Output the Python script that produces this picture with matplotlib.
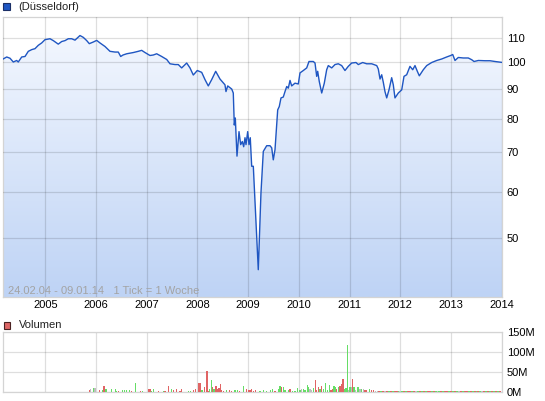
import matplotlib
matplotlib.use('Agg')
import matplotlib.pyplot as plt
import numpy as np
from matplotlib.patches import Rectangle, Polygon
from matplotlib.ticker import NullLocator, FixedLocator
from matplotlib.colors import LinearSegmentedColormap

plt.rcParams['font.family'] = ['Liberation Sans', 'DejaVu Sans']

# ---------------- data ----------------
price_year = [2004.150, 2004.237, 2004.302, 2004.367, 2004.434, 2004.465, 2004.533, 2004.598,
              2004.663, 2004.730, 2004.795, 2004.860, 2004.927, 2004.992, 2005.091, 2005.156,
              2005.254, 2005.321, 2005.387, 2005.452, 2005.519, 2005.584, 2005.682, 2005.748,
              2005.815, 2005.866, 2005.945, 2006.012, 2006.077, 2006.176, 2006.274, 2006.373,
              2006.438, 2006.485, 2006.531, 2006.604, 2006.734, 2006.832, 2006.899, 2006.965,
              2007.063, 2007.128, 2007.195, 2007.294, 2007.393, 2007.458, 2007.556, 2007.621,
              2007.688, 2007.787, 2007.852, 2007.917, 2007.996, 2008.083, 2008.148, 2008.213,
              2008.280, 2008.359, 2008.444, 2008.542, 2008.562, 2008.596, 2008.675, 2008.706,
              2008.726, 2008.746, 2008.779, 2008.819, 2008.852, 2008.884, 2008.911, 2008.937,
              2008.957, 2008.990, 2009.016, 2009.041, 2009.069, 2009.101, 2009.199, 2009.252,
              2009.298, 2009.365, 2009.430, 2009.464, 2009.495, 2009.529, 2009.582, 2009.613,
              2009.647, 2009.692, 2009.726, 2009.760, 2009.791, 2009.825, 2009.858, 2009.884,
              2009.923, 2009.988, 2010.022, 2010.087, 2010.154, 2010.199, 2010.284, 2010.318,
              2010.351, 2010.371, 2010.402, 2010.450, 2010.501, 2010.548, 2010.580, 2010.647,
              2010.712, 2010.777, 2010.844, 2010.909, 2010.974, 2011.041, 2011.126, 2011.172,
              2011.258, 2011.337, 2011.436, 2011.535, 2011.566, 2011.600, 2011.633, 2011.665,
              2011.698, 2011.732, 2011.777, 2011.830, 2011.862, 2011.895, 2011.961, 2012.028,
              2012.073, 2012.126, 2012.191, 2012.245, 2012.290, 2012.336, 2012.375, 2012.454,
              2012.521, 2012.619, 2012.718, 2012.817, 2012.915, 2012.994, 2013.034, 2013.079,
              2013.144, 2013.243, 2013.341, 2013.409, 2013.454, 2013.539, 2013.671, 2013.770,
              2013.868, 2014.022]
price_value = [101.0, 102.0, 101.5, 100.0, 100.6, 100.0, 102.0, 102.2,
               104.3, 105.0, 105.4, 106.8, 107.8, 109.2, 109.6, 108.8,
               107.3, 108.4, 108.8, 109.6, 109.6, 109.0, 111.0, 110.2,
               108.8, 107.5, 108.2, 108.9, 107.8, 106.3, 104.3, 104.0,
               104.0, 102.2, 102.8, 103.3, 103.8, 104.3, 104.7, 103.8,
               102.6, 102.8, 103.3, 102.2, 101.0, 99.3, 99.0, 99.0,
               97.7, 99.6, 97.7, 95.0, 96.7, 96.0, 93.3, 91.0,
               93.3, 96.4, 93.5, 91.4, 89.0, 91.0, 89.9, 88.5,
               78.0, 80.2, 69.0, 76.0, 72.2, 73.1, 71.6, 74.2,
               72.2, 76.0, 72.2, 74.2, 66.3, 66.3, 44.1, 59.7,
               70.3, 71.9, 71.9, 71.3, 68.0, 70.8, 82.8, 83.9,
               86.8, 87.1, 89.0, 90.8, 90.2, 93.0, 91.0, 91.4,
               92.0, 91.7, 95.8, 96.7, 97.7, 100.2, 100.2, 99.6,
               94.5, 96.4, 92.6, 88.5, 92.0, 97.0, 98.6, 97.7,
               99.0, 99.3, 98.6, 96.7, 98.3, 99.6, 99.8, 99.0,
               99.8, 99.3, 99.3, 98.6, 97.3, 93.5, 95.1, 92.3,
               89.0, 86.8, 89.6, 94.0, 91.4, 86.8, 88.5, 89.6,
               94.5, 95.1, 98.3, 97.0, 98.6, 96.4, 94.7, 97.0,
               98.6, 99.8, 100.6, 101.2, 102.0, 102.6, 103.0, 100.6,
               101.8, 101.6, 101.6, 100.9, 100.2, 100.6, 100.5, 100.5,
               100.2, 99.8]

vol_year = [2005.866, 2005.899, 2005.945, 2005.978, 2006.063, 2006.122, 2006.156, 2006.195,
            2006.300, 2006.379, 2006.406, 2006.438, 2006.517, 2006.556, 2006.604, 2006.655,
            2006.702, 2006.773, 2006.880, 2006.919, 2007.030, 2007.063, 2007.097, 2007.128,
            2007.227, 2007.325, 2007.359, 2007.424, 2007.491, 2007.523, 2007.590, 2007.655,
            2007.688, 2007.819, 2007.866, 2007.917, 2007.957, 2008.016, 2008.049, 2008.089,
            2008.134, 2008.187, 2008.221, 2008.233, 2008.272, 2008.300, 2008.326, 2008.365,
            2008.390, 2008.424, 2008.450, 2008.477, 2008.509, 2008.576, 2008.627, 2008.675,
            2008.740, 2008.785, 2008.824, 2008.903, 2008.970, 2009.002, 2009.036, 2009.069,
            2009.101, 2009.148, 2009.233, 2009.298, 2009.365, 2009.444, 2009.483, 2009.529,
            2009.594, 2009.627, 2009.661, 2009.692, 2009.726, 2009.791, 2009.825, 2009.877,
            2009.923, 2009.968, 2010.022, 2010.055, 2010.087, 2010.120, 2010.166, 2010.193,
            2010.219, 2010.252, 2010.284, 2010.323, 2010.351, 2010.383, 2010.416, 2010.442,
            2010.481, 2010.521, 2010.560, 2010.600, 2010.633, 2010.667, 2010.692, 2010.718,
            2010.746, 2010.777, 2010.811, 2010.844, 2010.864, 2010.884, 2010.909, 2010.929,
            2010.955, 2010.982, 2011.008, 2011.034, 2011.054, 2011.087, 2011.120, 2011.152,
            2011.180, 2011.205, 2011.239, 2011.270, 2011.304, 2011.337, 2011.388, 2011.436,
            2011.467, 2011.507, 2011.547]
vol_m = [4, 6, 9, 9, 4, 4, 14, 6,
         7, 6, 3, 2, 4, 4, 4, 4,
         3, 22, 2, 2, 6, 6, 3, 6,
         3, 3, 2, 14, 7, 5, 6, 2,
         8, 2, 2, 4, 8, 22, 22, 4,
         12, 52, 3, 8, 29, 12, 7, 14,
         7, 9, 19, 4, 3, 4, 4, 2,
         4, 4, 2, 14, 7, 4, 4, 7,
         3, 4, 2, 4, 2, 4, 6, 2,
         7, 14, 11, 12, 4, 4, 7, 3,
         3, 9, 4, 7, 7, 4, 17, 11,
         6, 4, 9, 29, 4, 11, 6, 14,
         8, 22, 4, 17, 4, 6, 14, 12,
         8, 11, 15, 19, 32, 32, 7, 9,
         119, 4, 11, 11, 32, 11, 4, 11,
         11, 6, 6, 6, 4, 4, 8, 4,
         4, 3, 2]
vol_dir = ["r", "n", "g", "n", "r", "g", "r", "g",
           "g", "g", "g", "r", "g", "g", "g", "g",
           "r", "g", "r", "g", "r", "r", "g", "g",
           "r", "g", "r", "r", "g", "r", "r", "r",
           "r", "g", "g", "r", "r", "r", "r", "g",
           "r", "r", "r", "g", "g", "r", "g", "r",
           "r", "r", "r", "r", "r", "g", "r", "r",
           "g", "g", "r", "g", "r", "r", "r", "r",
           "r", "r", "g", "g", "g", "g", "g", "r",
           "g", "g", "r", "g", "g", "g", "r", "g",
           "g", "g", "g", "n", "g", "g", "g", "g",
           "n", "n", "g", "r", "r", "r", "g", "r",
           "g", "g", "g", "g", "r", "r", "g", "g",
           "r", "g", "r", "r", "r", "r", "g", "g",
           "g", "n", "g", "n", "r", "g", "n", "g",
           "g", "n", "g", "n", "r", "r", "g", "r",
           "r", "n", "n"]
tail_start = 2011.58
tail_vol = [1.5, 1.2, 1.8, 1.0, 1.4, 1.6, 1.1, 1.3, 1.7, 1.2, 1.0, 1.5, 1.4, 1.1, 1.6, 1.3,
            1.2, 1.8, 1.0, 1.4, 1.5, 1.2, 1.1, 1.6, 1.3, 1.4, 1.0, 1.7, 1.2, 1.5, 1.1, 1.3,
            1.6, 1.2, 1.4, 1.0, 1.5, 1.3, 1.1, 1.7, 1.2, 1.4, 1.6, 1.0, 1.3, 1.5, 1.2, 1.1,
            1.4, 1.6, 1.3, 1.0, 1.5, 1.2, 1.4, 1.7, 1.1, 1.3, 1.5, 1.2, 1.0, 1.4, 1.6]
tail_dir = "rgrnrgrgrrgngrgrrgrngrgrgrrgrgngrgrrgrgrgnrgrrgrgrgrgnrgrgrgrgr"

years = list(range(2005, 2015))
price_ticks = [50, 60, 70, 80, 90, 100, 110]
vol_ticks = [0, 50, 100, 150]
vol_tick_labels = ['0M', '50M', '100M', '150M']

# ---------------- layout ----------------
W, H = 545, 401
fig = plt.figure(figsize=(W / 100, H / 100), dpi=100)
fig.patch.set_facecolor('white')


def fx(px):
    return px / W


def fy(py):
    return 1 - py / H


spine_col = '#d4d4d4'
xmin, xmax = 2004.164, 2014.006

ax = fig.add_axes([fx(3), fy(297), fx(502) - fx(3), fy(16.6) - fy(297)])
ax.set_yscale('log')
ax.set_xlim(xmin, xmax)
ax.set_ylim(39.6, 119.6)
ax.set_autoscale_on(False)

# gradient fill under the line
verts = list(zip(price_year, price_value)) + [(price_year[-1], 20), (price_year[0], 20)]
poly = Polygon(verts, closed=True, facecolor='none', edgecolor='none')
ax.add_patch(poly)
cmap = LinearSegmentedColormap.from_list('g', ['#f6f9ff', '#bed3f5'])
grad = np.linspace(0, 1, 256).reshape(-1, 1)
im = ax.imshow(grad, extent=[0, 1, 0, 1], transform=ax.transAxes, aspect='auto',
               cmap=cmap, zorder=1, interpolation='bilinear')
im.set_clip_path(poly)
ax.set_xlim(xmin, xmax)
ax.set_ylim(39.6, 119.6)

ax.plot(price_year, price_value, color='#1f56c2', lw=1.0, zorder=4)

ax.xaxis.set_major_locator(FixedLocator(years))
ax.set_xticklabels([str(y) for y in years])
ax.yaxis.set_major_locator(FixedLocator(price_ticks))
ax.yaxis.set_minor_locator(NullLocator())
ax.xaxis.set_minor_locator(NullLocator())
ax.set_yticklabels([str(v) for v in price_ticks])
ax.yaxis.tick_right()
ax.tick_params(axis='both', length=0, labelsize=8, labelcolor='black')
ax.tick_params(axis='y', pad=3.5)
ax.tick_params(axis='x', pad=2.5)
ax.set_axisbelow(False)
ax.grid(True, color='black', alpha=0.13, lw=0.9, zorder=2.5)
for s in ax.spines.values():
    s.set_color(spine_col)
    s.set_linewidth(0.9)

ax.text(0.0092, 0.009, '24.02.04 - 09.01.14   1 Tick = 1 Woche', transform=ax.transAxes,
        fontsize=8, color='#a3a3a3', va='baseline', ha='left', zorder=5)

# ---------------- volume panel ----------------
ax2 = fig.add_axes([fx(3), fy(391.7), fx(502) - fx(3), fy(332.3) - fy(391.7)])
ax2.set_xlim(xmin, xmax)
ax2.set_ylim(0, 150)
col_map = {'r': '#e06464', 'g': '#66dd66', 'n': '#bdbdbd'}
ax2.bar(vol_year, vol_m, width=0.021, color=[col_map[c] for c in vol_dir],
        linewidth=0, zorder=3, antialiased=False)
n_tail = min(len(tail_vol), len(tail_dir))
tail_x = [tail_start + i / 26 for i in range(n_tail)]
ax2.bar(tail_x, tail_vol[:n_tail], width=1 / 26, color=[col_map[c] for c in tail_dir[:n_tail]],
        linewidth=0, zorder=3, antialiased=False)
ax2.xaxis.set_major_locator(FixedLocator(years))
ax2.set_xticklabels([])
ax2.yaxis.set_major_locator(FixedLocator(vol_ticks))
ax2.set_yticklabels(vol_tick_labels)
ax2.yaxis.tick_right()
ax2.tick_params(axis='both', length=0, labelsize=8, labelcolor='black')
ax2.tick_params(axis='y', pad=3.5)
ax2.grid(True, color='black', alpha=0.13, lw=0.9, zorder=1)
ax2.set_axisbelow(True)
for s in ax2.spines.values():
    s.set_color(spine_col)
    s.set_linewidth(0.9)

# ---------------- legends ----------------
fig.add_artist(Rectangle((fx(3), fy(10)), fx(7), 7 / H, transform=fig.transFigure,
                         facecolor='#1f56c2', edgecolor='#1b2f66', lw=0.8))
fig.text(fx(18), fy(6.5), '(Düsseldorf)', fontsize=8, va='center', ha='left', color='#222222')
fig.add_artist(Rectangle((fx(3.5), fy(328.5)), fx(6.5), 6.5 / H, transform=fig.transFigure,
                         facecolor='#dd6666', edgecolor='#4a2222', lw=0.8))
fig.text(fx(19), fy(325), 'Volumen', fontsize=8, va='center', ha='left', color='#222222')

fig.savefig('out.png', dpi=100, facecolor='white')
